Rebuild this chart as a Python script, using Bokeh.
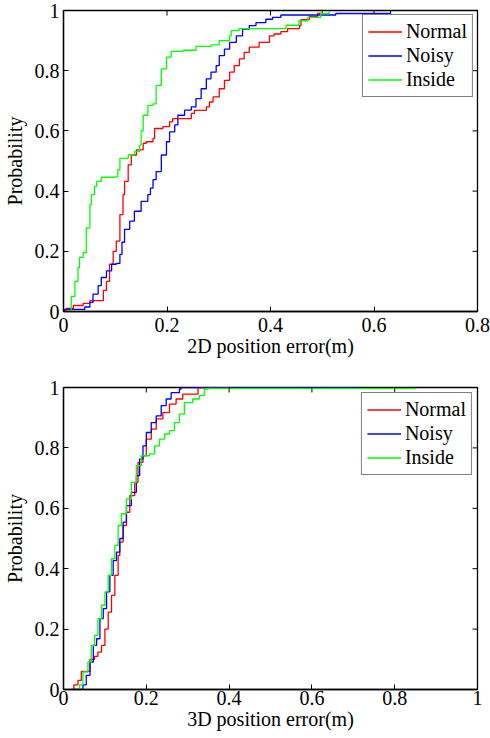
import math
from bokeh.plotting import figure
from bokeh.models import Range1d, FixedTicker, Legend, LegendItem
from bokeh.layouts import column
from bokeh.embed import file_html
from bokeh.resources import INLINE

# ---------------- data: top chart (2D position error) ----------------
x2d_normal = [0.0, 0.005, 0.019, 0.038, 0.051, 0.077, 0.083, 0.089, 0.096, 0.102, 0.109, 0.115,
              0.118, 0.125, 0.131, 0.141, 0.154, 0.160, 0.173, 0.176, 0.192, 0.205, 0.211, 0.247,
              0.253, 0.276, 0.282, 0.289, 0.301, 0.311, 0.321, 0.330, 0.340, 0.349, 0.359, 0.378,
              0.398, 0.407, 0.420, 0.433, 0.456, 0.459, 0.475, 0.491, 0.500]
p2d_normal = [0.0, 0.010, 0.020, 0.027, 0.036, 0.070, 0.100, 0.157, 0.200, 0.234, 0.322, 0.388,
              0.432, 0.487, 0.520, 0.537, 0.559, 0.564, 0.575, 0.608, 0.614, 0.630, 0.641, 0.658,
              0.668, 0.680, 0.696, 0.713, 0.740, 0.768, 0.795, 0.817, 0.839, 0.861, 0.878, 0.894,
              0.916, 0.922, 0.930, 0.940, 0.950, 0.970, 0.980, 0.990, 1.0]

x2d_noisy = [0.0, 0.002, 0.041, 0.051, 0.057, 0.067, 0.073, 0.083, 0.093, 0.102, 0.109, 0.113,
             0.118, 0.128, 0.137, 0.150, 0.163, 0.168, 0.173, 0.179, 0.189, 0.199, 0.205, 0.215,
             0.221, 0.234, 0.247, 0.256, 0.266, 0.276, 0.285, 0.295, 0.301, 0.311, 0.321, 0.334,
             0.346, 0.359, 0.372, 0.391, 0.404, 0.420, 0.526, 0.632]
p2d_noisy = [0.0, 0.007, 0.015, 0.030, 0.058, 0.086, 0.113, 0.135, 0.157, 0.160, 0.190, 0.230,
             0.273, 0.300, 0.333, 0.366, 0.388, 0.410, 0.438, 0.465, 0.520, 0.564, 0.597, 0.620,
             0.652, 0.669, 0.680, 0.707, 0.740, 0.773, 0.795, 0.817, 0.850, 0.872, 0.894, 0.916,
             0.938, 0.950, 0.960, 0.971, 0.977, 0.985, 0.990, 1.0]

x2d_inside = [0.0, 0.015, 0.022, 0.028, 0.031, 0.038, 0.044, 0.051, 0.054, 0.060, 0.064, 0.073,
              0.099, 0.105, 0.109, 0.125, 0.137, 0.147, 0.150, 0.154, 0.163, 0.173, 0.179, 0.189,
              0.199, 0.208, 0.231, 0.256, 0.285, 0.301, 0.321, 0.324, 0.339, 0.430, 0.455, 0.472,
              0.497, 0.513]
p2d_inside = [0.0, 0.050, 0.100, 0.146, 0.180, 0.196, 0.278, 0.355, 0.388, 0.416, 0.432, 0.446,
              0.447, 0.471, 0.509, 0.520, 0.531, 0.553, 0.600, 0.652, 0.685, 0.690, 0.751, 0.806,
              0.845, 0.864, 0.868, 0.881, 0.886, 0.900, 0.916, 0.933, 0.940, 0.951, 0.966, 0.977,
              0.990, 1.0]

# ---------------- data: bottom chart (3D position error) ----------------
x3d_normal = [0.019, 0.025, 0.035, 0.043, 0.064, 0.075, 0.083, 0.092, 0.100, 0.108, 0.116, 0.124,
              0.132, 0.136, 0.144, 0.152, 0.160, 0.172, 0.180, 0.192, 0.200, 0.212, 0.224, 0.240,
              0.256, 0.272, 0.288, 0.325, 0.400]
p3d_normal = [0.0, 0.015, 0.030, 0.060, 0.100, 0.110, 0.124, 0.146, 0.200, 0.256, 0.312, 0.378,
              0.444, 0.488, 0.543, 0.587, 0.642, 0.686, 0.752, 0.774, 0.829, 0.862, 0.896, 0.917,
              0.945, 0.962, 0.978, 1.0, 1.0]

x3d_noisy = [0.024, 0.043, 0.047, 0.055, 0.064, 0.072, 0.080, 0.088, 0.096, 0.104, 0.112, 0.120,
             0.128, 0.136, 0.144, 0.152, 0.164, 0.176, 0.184, 0.192, 0.200, 0.212, 0.224, 0.236,
             0.248, 0.260, 0.280, 0.284, 0.710]
p3d_noisy = [0.0, 0.0, 0.015, 0.047, 0.091, 0.146, 0.168, 0.235, 0.268, 0.323, 0.378, 0.427,
             0.455, 0.500, 0.554, 0.609, 0.653, 0.708, 0.763, 0.807, 0.851, 0.884, 0.906, 0.940,
             0.962, 0.983, 0.995, 1.0, 1.0]

x3d_inside = [0.031, 0.039, 0.047, 0.059, 0.067, 0.075, 0.083, 0.092, 0.100, 0.108, 0.116, 0.124,
              0.132, 0.140, 0.152, 0.164, 0.176, 0.188, 0.208, 0.220, 0.232, 0.244, 0.256, 0.268,
              0.280, 0.292, 0.312, 0.328, 0.340, 0.349, 0.850]
p3d_inside = [0.0, 0.015, 0.058, 0.091, 0.146, 0.179, 0.235, 0.279, 0.323, 0.378, 0.433, 0.477,
              0.543, 0.582, 0.631, 0.686, 0.741, 0.774, 0.780, 0.807, 0.829, 0.846, 0.857, 0.884,
              0.912, 0.950, 0.962, 0.973, 0.995, 0.997, 0.997]

series_names = ["Normal", "Noisy", "Inside"]
top_colors = ["#ff0000", "#0000ff", "#00ff00"]
bottom_colors = ["#ff0000", "#0000ff", "#00ff00"]

top_xticks = [0, 0.2, 0.4, 0.6, 0.8]
bottom_xticks = [0, 0.2, 0.4, 0.6, 0.8, 1.0]
yticks = [0, 0.2, 0.4, 0.6, 0.8, 1.0]
tick_text = {0: "0", 0.2: "0.2", 0.4: "0.4", 0.6: "0.6", 0.8: "0.8", 1.0: "1"}

FONT = "Liberation Serif"
FS = "20px"


def step_path(x, y):
    """Expand CDF points into a staircase (level y[i] held until x[i+1])."""
    sx, sy = [x[0]], [y[0]]
    for i in range(1, len(x)):
        sx += [x[i], x[i]]
        sy += [y[i - 1], y[i]]
    return sx, sy


def style_axis(ax, ticks, label_standoff, axis_label_standoff):
    ax.ticker = FixedTicker(ticks=ticks)
    ax.major_label_overrides = {t: tick_text[t] for t in ticks}
    ax.major_tick_in = 5
    ax.major_tick_out = 0
    ax.minor_tick_in = 0
    ax.minor_tick_out = 0
    ax.axis_line_color = "black"
    ax.axis_line_width = 1.3
    ax.major_tick_line_color = "black"
    ax.major_tick_line_width = 1
    ax.major_label_text_font = FONT
    ax.major_label_text_font_size = FS
    ax.major_label_text_color = "black"
    ax.major_label_standoff = label_standoff
    ax.axis_label_text_font = FONT
    ax.axis_label_text_font_size = FS
    ax.axis_label_text_font_style = "normal"
    ax.axis_label_text_color = "black"
    ax.axis_label_standoff = axis_label_standoff


def make_plot(xs, ps, colors, xticks, xmax, xlabel, height, top_border, bottom_border,
              x_label_standoff, legend_margin):
    p = figure(width=490, height=height, output_backend="svg", toolbar_location=None,
               x_range=Range1d(0, xmax), y_range=Range1d(0, 1),
               min_border_left=62, min_border_right=13,
               min_border_top=top_border, min_border_bottom=bottom_border)
    p.xgrid.visible = False
    p.ygrid.visible = False
    p.outline_line_color = "black"
    p.outline_line_width = 1.3
    p.background_fill_color = "white"
    p.border_fill_color = "white"

    style_axis(p.xaxis[0], xticks, x_label_standoff, 0)
    style_axis(p.yaxis[0], yticks, 4, 6)
    p.xaxis[0].axis_label = xlabel
    p.yaxis[0].axis_label = "Probability"

    items = []
    for name, x, y, c in zip(series_names, xs, ps, colors):
        sx, sy = step_path(x, y)
        r = p.line(sx, sy, line_color=c, line_width=1.3)
        items.append(LegendItem(label=name, renderers=[r]))

    # mirrored inward ticks on the top and right edges (clipped to the frame)
    p.scatter(x=xticks, y=[1.0] * len(xticks), marker="dash", size=10, angle=math.pi / 2,
              line_color="black", line_width=1)
    p.scatter(x=[xmax] * len(yticks), y=yticks, marker="dash", size=10,
              line_color="black", line_width=1)

    legend = Legend(items=items, location="top_right", margin=legend_margin,
                    label_text_font=FONT, label_text_font_size=FS,
                    label_text_color="black", label_height=21, label_standoff=4,
                    glyph_width=34, glyph_height=21, spacing=1, padding=5,
                    border_line_color="black", border_line_width=1.5,
                    background_fill_alpha=1.0)
    p.add_layout(legend)
    return p


p_top = make_plot([x2d_normal, x2d_noisy, x2d_inside], [p2d_normal, p2d_noisy, p2d_inside],
                  top_colors, top_xticks, 0.8, "2D position error(m)", 368, 10, 57, 6, 4)
p_bot = make_plot([x3d_normal, x3d_noisy, x3d_inside], [p3d_normal, p3d_noisy, p3d_inside],
                  bottom_colors, bottom_xticks, 1.0, "3D position error(m)", 370, 19, 49, 1, 5)

layout = column(p_top, p_bot, spacing=0)
open("out.html", "w").write(file_html(layout, INLINE))
